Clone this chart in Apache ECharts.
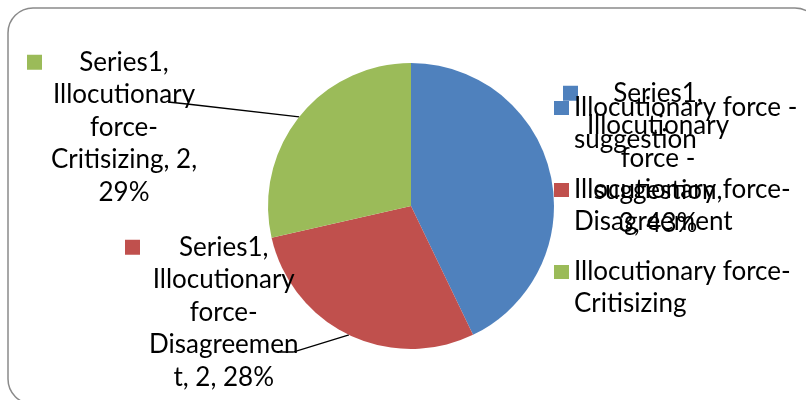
<!DOCTYPE html>
<html>
<head>
<meta charset="utf-8">
<script src="https://cdn.jsdelivr.net/npm/echarts@6/dist/echarts.min.js"></script>
<style>
  html, body { margin: 0; padding: 0; background: #fff; }
  #chart { width: 806px; height: 400px; }
</style>
</head>
<body>
<div id="chart"></div>
<script>
// ---- data ----
const seriesName = 'Series1';
const categories = [
  'Illocutionary force - suggestion',
  'Illocutionary force-Disagreement',
  'Illocutionary force-Critisizing'
];
const counts = [3, 2, 2];
const percents = [43, 28, 29];
const colors = ['#4F81BD', '#C0504D', '#9BBB59'];

// wrapped label lines; {v} = count, {p} = percent
const labelTemplates = [
  [seriesName + ',', 'Illocutionary', 'force -', 'suggestion,', '{v}, {p}%'],
  [seriesName + ',', 'Illocutionary', 'force-', 'Disagreemen', 't, {v}, {p}%'],
  [seriesName + ',', 'Illocutionary', 'force-', 'Critisizing, {v},', '{p}%']
];

// ---- layout ----
const FONT = 'Lato';
const FS = 26;
const LH = 32.5;
const labelBoxes = [[563, 77], [125, 231], [27, 46]];   // top-left of each data label block
// leader line bends / ends next to the label text (null = no leader line)
const leaderEnds = [null, [[293, 352], [280, 352]], [[187, 104], [168, 102]]];

const chart = echarts.init(document.getElementById('chart'), null, { renderer: 'canvas' });

function labelText(i) {
  return labelTemplates[i].map(function (line, k) {
    const txt = line.replace('{v}', counts[i]).replace('{p}', percents[i]);
    const lead = k === 0 ? '{sq' + i + '|}{g|}' : '{sp|}';
    return lead + '{t|' + txt + '}';
  }).join('\n');
}

const rich = {
  g: { width: 9, height: 15, align: 'left' },
  sp: { width: 24, height: 15, align: 'left' },
  t: { fontFamily: FONT, fontSize: FS, lineHeight: LH, color: '#000', align: 'center' }
};
colors.forEach(function (c, i) {
  rich['sq' + i] = { width: 15, height: 15, backgroundColor: c, align: 'left' };
});

const data = categories.map(function (name, i) {
  return {
    name: name,
    value: counts[i],
    itemStyle: { color: colors[i] },
    labelLine: { show: leaderEnds[i] !== null }
  };
});

chart.setOption({
  animation: false,
  backgroundColor: '#fff',
  graphic: [{
    type: 'rect',
    shape: { x: 8, y: 8, width: 812, height: 396, r: 25 },
    style: { fill: 'none', stroke: '#8a8a8a', lineWidth: 1.5 },
    silent: true,
    z: -1
  }],
  legend: {
    orient: 'vertical',
    left: 554,
    top: 60,
    padding: 0,
    itemWidth: 15,
    itemHeight: 14,
    itemGap: -14,
    icon: 'rect',
    selectedMode: false,
    data: categories,
    // empty first line keeps the key square level with the first text line
    formatter: function (name) {
      return '\n' + name.replace(/(force ?-)\s*/, '$1\n');
    },
    textStyle: {
      fontFamily: FONT,
      fontSize: FS,
      lineHeight: 32,
      color: '#000'
    }
  },
  series: [{
    name: seriesName,
    type: 'pie',
    center: [411, 206],
    radius: 143,
    startAngle: 90,
    clockwise: true,
    data: data,
    itemStyle: { borderWidth: 0 },
    label: {
      show: true,
      position: 'outside',
      formatter: function (p) { return labelText(p.dataIndex); },
      rich: rich
    },
    labelLine: {
      show: true,
      length: 10,
      length2: 10,
      lineStyle: { color: '#000', width: 1.3 }
    },
    labelLayout: function (params) {
      const i = params.dataIndex;
      const b = labelBoxes[i];
      const out = { x: b[0], y: b[1], align: 'left', verticalAlign: 'top' };
      if (leaderEnds[i] && params.labelLinePoints) {
        out.labelLinePoints = [params.labelLinePoints[0]].concat(leaderEnds[i]);
      }
      return out;
    },
    emphasis: { disabled: true }
  }]
});
</script>
</body>
</html>
